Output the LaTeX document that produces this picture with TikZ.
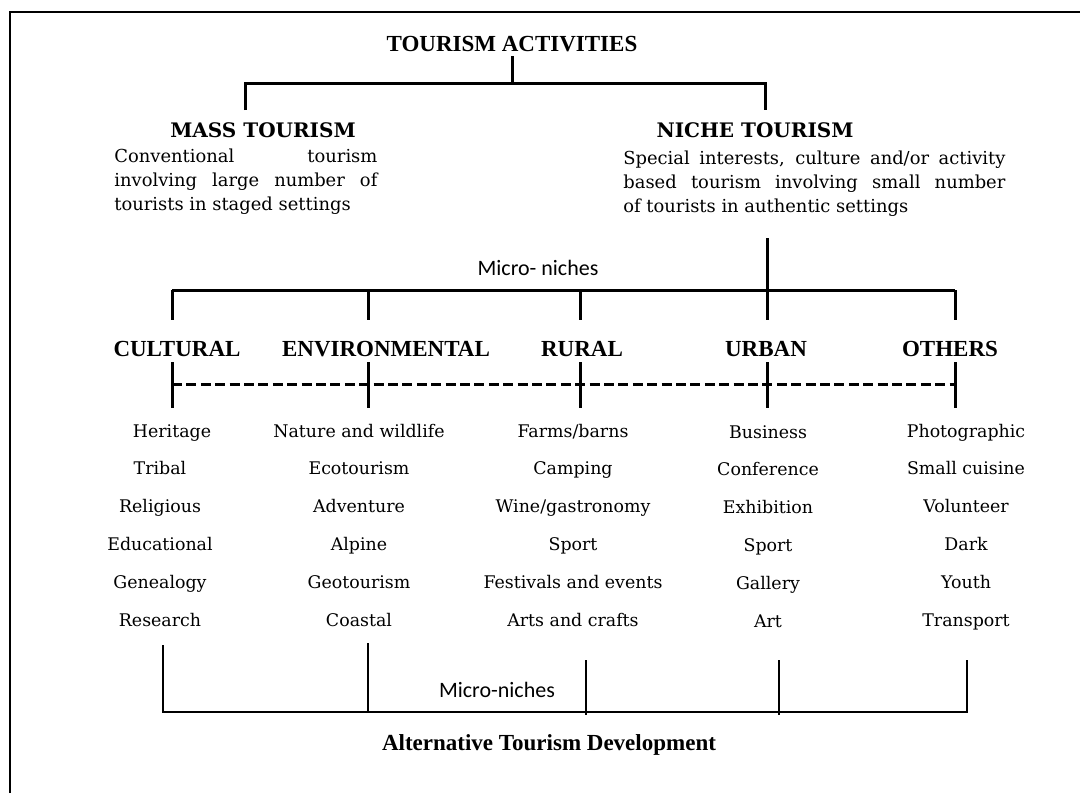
\documentclass[tikz,border=0pt]{standalone}
\usepackage{fontspec}
\setmainfont{DejaVu Serif}
\newfontfamily\timesfont{Liberation Serif}
\newfontfamily\calibrifont{Carlito}
\usepackage{tikz}
\usetikzlibrary{positioning}
\usetikzlibrary{calc}
\tikzstyle{bar}=[line width=1.5pt]
\tikzstyle{thinbar}=[line width=1.25pt]
\tikzstyle{dashbar}=[line width=1.5pt,dash pattern=on 5pt off 2.2pt]
\tikzstyle{title}=[font=\timesfont\bfseries\fontsize{11.5}{13}\selectfont,inner sep=2pt,anchor=base]
\tikzstyle{tophead}=[font=\bfseries\fontsize{10}{12}\selectfont,inner sep=2pt,anchor=base]
\tikzstyle{desc}=[font=\fontsize{8.95}{12}\selectfont,align=justify,inner sep=0pt,anchor=north west]
\tikzstyle{item}=[font=\fontsize{8.7}{10}\selectfont,text height=6pt,text depth=2pt,inner sep=0pt]
\tikzstyle{note}=[font=\calibrifont\fontsize{11}{13}\selectfont,inner sep=0pt,anchor=base]

\begin{document}
\begin{tikzpicture}[x=0.5pt,y=-0.5pt,node distance=18.9pt]
\useasboundingbox (0,0) rectangle (1080,793);
% frame
\draw[line width=1pt] (10,793) -- (10,12) -- (1080,12);

% top level
\node (act) [title] at (512,51.5) {TOURISM ACTIVITIES};
\node (mass) [tophead] at (263,137) {MASS TOURISM};
\node (niche) [tophead] at (755,137) {NICHE TOURISM};
\node (massdesc) [desc,text width=131.5pt] at (114,148)
{Conventional tourism\linebreak involving large number of\linebreak tourists in staged settings};
\node (nichedesc) [desc,text width=191pt] at (623,150)
{Special interests, culture and/or activity\linebreak based tourism involving small number\linebreak of tourists in authentic settings};
\coordinate (actbar) at (512,83);
\coordinate (massbar) at (245,83);
\coordinate (nichebar) at (765,83);
\coordinate (massstub) at (245,110);
\coordinate (nichestub) at (765,110);
\draw[bar](act.south)--(actbar);
\draw[bar](massstub)--(massbar)--(nichebar)--(nichestub);

% micro-niches bar
\node (micro) [note] at (538,275) {Micro- niches};
\coordinate (stem) at (767,238);
\coordinate (u1) at (172,290);
\coordinate (u2) at (368,290);
\coordinate (u3) at (580,290);
\coordinate (u4) at (767,290);
\coordinate (u5) at (955,290);
\draw[bar](stem)--(u4);
\draw[bar](u1)--(u5);
\draw[bar](u1)--++(0,30);
\draw[bar](u2)--++(0,30);
\draw[bar](u3)--++(0,30);
\draw[bar](u4)--++(0,30);
\draw[bar](u5)--++(0,30);

% categories
\node (cultural) [title] at (177,356) {CULTURAL};
\node (environmental) [title] at (386,356) {ENVIRONMENTAL};
\node (rural) [title] at (582,356) {RURAL};
\node (urban) [title] at (766,356) {URBAN};
\node (others) [title] at (950,356) {OTHERS};
\coordinate (d1) at (172,362);
\coordinate (d2) at (368,362);
\coordinate (d3) at (580,362);
\coordinate (d4) at (767,362);
\coordinate (d5) at (955,362);
\draw[bar](d1)--++(0,46);
\draw[bar](d2)--++(0,46);
\draw[bar](d3)--++(0,46);
\draw[bar](d4)--++(0,46);
\draw[bar](d5)--++(0,46);
\draw[dashbar]($(d1)+(0,22)$)--($(d5)+(0,22)$);

% cultural
\node (heritage) [item] at (172,433) {Heritage};
\node (tribal) [item,below of=heritage,xshift=-6pt] {Tribal};
\node (religious) [item,below of=tribal] {Religious};
\node (educational) [item,below of=religious] {Educational};
\node (genealogy) [item,below of=educational] {Genealogy};
\node (research) [item,below of=genealogy] {Research};
% environmental
\node (nature) [item] at (359,433) {Nature and wildlife};
\node (eco) [item,below of=nature] {Ecotourism};
\node (adventure) [item,below of=eco] {Adventure};
\node (alpine) [item,below of=adventure] {Alpine};
\node (geo) [item,below of=alpine] {Geotourism};
\node (coastal) [item,below of=geo] {Coastal};
% rural
\node (farms) [item] at (573,433) {Farms/barns};
\node (camping) [item,below of=farms] {Camping};
\node (wine) [item,below of=camping] {Wine/gastronomy};
\node (ruralsport) [item,below of=wine] {Sport};
\node (festivals) [item,below of=ruralsport] {Festivals and events};
\node (arts) [item,below of=festivals] {Arts and crafts};
% urban
\node (business) [item] at (768,434) {Business};
\node (conference) [item,below of=business] {Conference};
\node (exhibition) [item,below of=conference] {Exhibition};
\node (urbansport) [item,below of=exhibition] {Sport};
\node (gallery) [item,below of=urbansport] {Gallery};
\node (art) [item,below of=gallery] {Art};
% others
\node (photo) [item] at (966,433) {Photographic};
\node (cuisine) [item,below of=photo] {Small cuisine};
\node (volunteer) [item,below of=cuisine] {Volunteer};
\node (dark) [item,below of=volunteer] {Dark};
\node (youth) [item,below of=dark] {Youth};
\node (transport) [item,below of=youth] {Transport};

% bottom bar
\node (micro2) [note] at (497,697) {Micro-niches};
\node (alt) [title] at (549,750) {Alternative Tourism Development};
\coordinate (b1) at (163,645);
\coordinate (b2) at (368,643);
\coordinate (b3) at (586,660);
\coordinate (b4) at (779,660);
\coordinate (b5) at (967,660);
\coordinate (l1) at (163,712);
\coordinate (l5) at (967,712);
\draw[thinbar](b1)--(l1)--(l5)--(b5);
\draw[thinbar](b2)--(b2|-l1);
\draw[thinbar](b3)--($(b3|-l1)+(0,3)$);
\draw[thinbar](b4)--($(b4|-l1)+(0,3)$);
\end{tikzpicture}
\end{document}
